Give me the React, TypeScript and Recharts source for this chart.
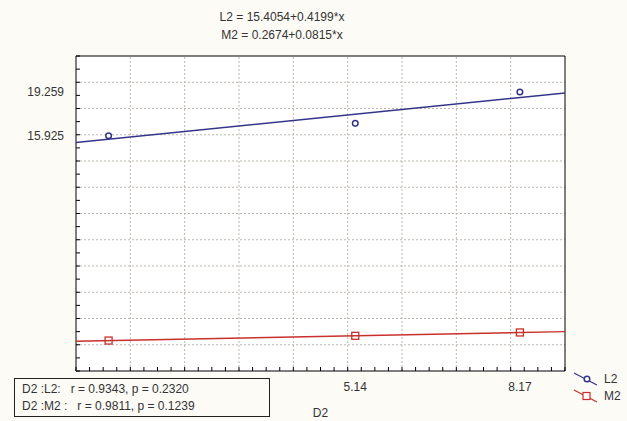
import { CartesianGrid, ComposedChart, ReferenceLine, Scatter, XAxis, YAxis } from "recharts";

// observations (D2 on x)
const xValues = [0.6, 5.14, 8.17];
const l2Values = [15.925, 16.87, 19.259];
const m2Values = [0.32, 0.68, 0.936];

// fitted lines, read at the two plot edges
const fitX = [0, 9];
const l2Fit = [15.41, 19.18];
const m2Fit = [0.27, 1.0];

// axes
const xDomain: [number, number] = [0, 9];
const yDomain: [number, number] = [-2, 22];
const xLabelTicks = [5.14, 8.17];
const yLabelTicks = [15.925, 19.259];
const xGridTicks = [1, 2, 3, 4, 5, 6, 7, 8];
const yGridTicks = [0, 2, 4, 6, 8, 10, 12, 14, 16, 18, 20];

const titleLines = ["L2 = 15.4054+0.4199*x", "M2 = 0.2674+0.0815*x"];
const statLines = ["D2 :L2:   r = 0.9343, p = 0.2320", "D2 :M2 :   r = 0.9811, p = 0.1239"];

const xMinorTicks = Array.from({ length: 37 }, (_, i) => i * 0.25);
const yMinorTicks = Array.from({ length: 25 }, (_, i) => i - 2);

const BLUE = "#34348a";
const RED = "#c8302c";
const GRID = "#bdb6ae";
const FONT = "'Liberation Sans', Arial, sans-serif";
const TEXT = "#333";

const zip = (xs: number[], ys: number[]) => xs.map((x, i) => ({ x, y: ys[i] }));
const l2Points = zip(xValues, l2Values);
const m2Points = zip(xValues, m2Values);
const l2Line = zip(fitX, l2Fit);
const m2Line = zip(fitX, m2Fit);

const TICK = 4;

function BottomTick({ x, y, payload }: any) {
  if (xLabelTicks.includes(payload.value)) {
    return (
      <text x={x} y={y + 20} textAnchor="middle" fontSize={12} fill={TEXT} fontFamily={FONT}>
        {payload.value.toFixed(2)}
      </text>
    );
  }
  return <line x1={x} x2={x} y1={y} y2={y - TICK} stroke="#000" />;
}

function LeftTick({ x, y, payload }: any) {
  if (yLabelTicks.includes(payload.value)) {
    return (
      <text x={x - 12} y={y + 4} textAnchor="end" fontSize={12} fill={TEXT} fontFamily={FONT}>
        {payload.value.toFixed(3)}
      </text>
    );
  }
  return <line x1={x} x2={x + TICK} y1={y} y2={y} stroke="#000" />;
}

function TopTick({ x, y }: any) {
  return <line x1={x} x2={x} y1={y} y2={y + TICK} stroke="#000" />;
}

function RightTick({ x, y }: any) {
  return <line x1={x} x2={x - TICK} y1={y} y2={y} stroke="#000" />;
}

const Circle = ({ cx, cy }: any) =>
  cx == null ? <g /> : <circle cx={cx} cy={cy} r={2.8} fill="#fff" stroke={BLUE} strokeWidth={1.5} />;
const Square = ({ cx, cy }: any) =>
  cx == null ? <g /> : (
    <rect x={cx - 3.5} y={cy - 3.5} width={7} height={7} fill="none" stroke={RED} strokeWidth={1.3} />
  );
const NoShape = () => <g />;

function LegendItem({ name, color, square }: { name: string; color: string; square?: boolean }) {
  return (
    <div style={{ display: "flex", alignItems: "center", height: 17 }}>
      <svg width={30} height={17}>
        <line x1={4} y1={3} x2={27} y2={15} stroke={color} strokeWidth={1.2} />
        {square ? (
          <rect x={13} y={5.5} width={7} height={7} fill="#fff" stroke={color} strokeWidth={1.2} />
        ) : (
          <circle cx={17} cy={9} r={2.8} fill="#fff" stroke={color} strokeWidth={1.5} />
        )}
      </svg>
      <span style={{ marginLeft: 4 }}>{name}</span>
    </div>
  );
}

export default function App() {
  return (
    <div
      style={{
        position: "absolute",
        left: 0,
        top: 0,
        width: 627,
        height: 421,
        background: "#fcfbf6",
        fontFamily: FONT,
        color: TEXT,
        fontSize: 12,
      }}
    >
      <ComposedChart width={627} height={421} margin={{ top: 55, right: 61, bottom: 0, left: 0 }}>
        <CartesianGrid xAxisId="main" yAxisId="main" horizontal={false} vertical={false} fill="#ffffff" />
        <XAxis
          xAxisId="main"
          dataKey="x"
          type="number"
          domain={xDomain}
          ticks={[...xMinorTicks, ...xLabelTicks]}
          interval={0}
          tickSize={0}
          tickMargin={0}
          tickLine={false}
          tick={BottomTick}
          height={50}
          axisLine={{ stroke: "#000" }}
          allowDataOverflow
          label={{ value: "D2", position: "insideBottom", offset: 4, fill: TEXT, fontSize: 12, fontFamily: FONT }}
        />
        <YAxis
          yAxisId="main"
          dataKey="y"
          type="number"
          domain={yDomain}
          ticks={[...yMinorTicks, ...yLabelTicks]}
          interval={0}
          tickSize={0}
          tickMargin={0}
          tickLine={false}
          tick={LeftTick}
          width={76}
          axisLine={{ stroke: "#000" }}
          allowDataOverflow
        />
        <XAxis
          xAxisId="top"
          orientation="top"
          type="number"
          domain={xDomain}
          ticks={xMinorTicks}
          interval={0}
          tickSize={0}
          tickMargin={0}
          tickLine={false}
          tick={TopTick}
          height={1}
          axisLine={{ stroke: "#000" }}
        />
        <YAxis
          yAxisId="right"
          orientation="right"
          type="number"
          domain={yDomain}
          ticks={yMinorTicks}
          interval={0}
          tickSize={0}
          tickMargin={0}
          tickLine={false}
          tick={RightTick}
          width={1}
          axisLine={{ stroke: "#000" }}
        />
        {xGridTicks.map((v) => (
          <ReferenceLine
            key={`gx${v}`}
            xAxisId="main"
            yAxisId="main"
            x={v}
            stroke={GRID}
            strokeWidth={1}
            strokeDasharray="2 2"
            ifOverflow="visible"
          />
        ))}
        {yGridTicks.map((v) => (
          <ReferenceLine
            key={`gy${v}`}
            xAxisId="main"
            yAxisId="main"
            y={v}
            stroke={GRID}
            strokeWidth={1}
            strokeDasharray="2 2"
            ifOverflow="visible"
          />
        ))}
        <Scatter
          xAxisId="main"
          yAxisId="main"
          data={l2Line}
          line={{ stroke: BLUE, strokeWidth: 1.4 }}
          shape={NoShape}
          isAnimationActive={false}
        />
        <Scatter
          xAxisId="main"
          yAxisId="main"
          data={m2Line}
          line={{ stroke: RED, strokeWidth: 1.4 }}
          shape={NoShape}
          isAnimationActive={false}
        />
        <Scatter xAxisId="main" yAxisId="main" data={l2Points} shape={Circle} isAnimationActive={false} />
        <Scatter xAxisId="main" yAxisId="main" data={m2Points} shape={Square} isAnimationActive={false} />
      </ComposedChart>

      <div style={{ position: "absolute", left: 0, top: 8, width: 564, textAlign: "center", lineHeight: "18px" }}>
        {titleLines.map((t) => (
          <div key={t}>{t}</div>
        ))}
      </div>

      <div
        style={{
          position: "absolute",
          left: 14,
          top: 378,
          width: 256,
          height: 39,
          border: "1px solid #222",
          boxSizing: "border-box",
          padding: "2px 0 0 7px",
          lineHeight: "17px",
          whiteSpace: "pre",
        }}
      >
        {statLines.map((t) => (
          <div key={t}>{t}</div>
        ))}
      </div>

      <div style={{ position: "absolute", left: 570, top: 370 }}>
        <LegendItem name="L2" color={BLUE} />
        <LegendItem name="M2" color={RED} square />
      </div>
    </div>
  );
}
